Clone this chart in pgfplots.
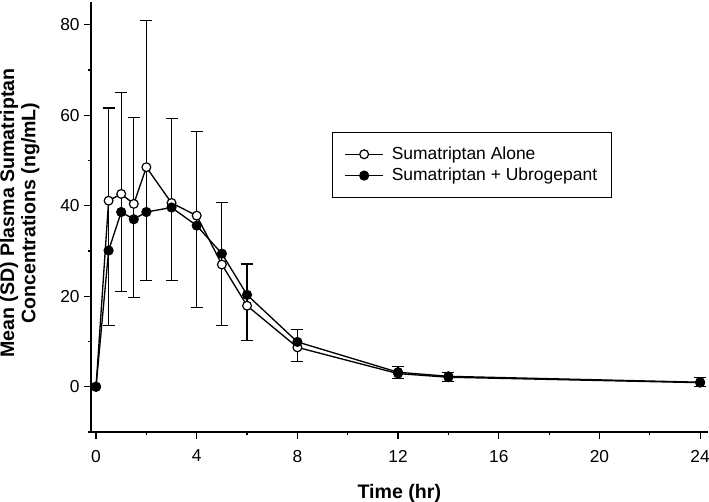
\documentclass[border=0pt]{standalone}
\usepackage{fontspec}
\setmainfont{Liberation Sans}
\usepackage{pgfplots}
\pgfplotsset{compat=1.18}
\usepackage{pgfplotstable}

\pgfplotstableread{
t m1 m2
0 0 0
0.5 41.1 30.1
1 42.6 38.6
1.5 40.4 37.0
2 48.5 38.6
3 40.6 39.6
4 37.8 35.6
5 27.0 29.4
6 17.9 20.3
8 8.7 9.9
12 2.9 3.2
14 2.1 2.3
24 0.9 1.0
}\means

\pgfplotstableread{
t y ep em
0.5 41.1 20.5 27.6
1 42.6 22.4 21.5
1.5 40.4 19.1 20.7
2 48.5 32.5 25.1
3 40.6 18.6 17.2
4 37.8 18.6 20.3
5 27.0 13.7 13.5
6 17.9 9.2 7.6
8 8.7 3.9 3.1
12 2.9 1.6 1.0
14 2.1 1.1 0.9
24 0.9 1.1 0.9
}\errs

\begin{document}
\begin{tikzpicture}
\begin{axis}[
  name=ax,
  scale only axis, width=462.5pt, height=322.5pt,
  xmin=-0.2, xmax=24.3, ymin=-10, ymax=85,
  axis x line=bottom, axis y line=left,
  axis line style={-, line width=0.9pt, black},
  xtick={0,4,...,24}, minor xtick={2,6,...,22},
  ytick={0,20,...,80}, minor ytick={-10,10,...,70},
  tick align=outside, major tick length=5pt, minor tick length=2.5pt,
  every tick/.style={black, line width=0.9pt},
  /pgf/number format/assume math mode=true,
  xticklabel style={font=\fontsize{13}{15}\selectfont, yshift=-5pt},
  yticklabel style={font=\fontsize{13}{15}\selectfont},
  xlabel={Time (hr)},
  ylabel={Mean (SD) Plasma Sumatriptan\\Concentrations (ng/mL)},
  every axis x label/.style={at={(axis description cs:0.5,-0.1535)}, anchor=base, font=\fontsize{14.7}{16}\selectfont\bfseries},
  every axis y label/.style={at={(axis description cs:-0.1155,0.509)}, rotate=90, anchor=center, align=center, font=\fontsize{14.7}{16}\selectfont\bfseries},
  clip=false,
  legend style={at={(axis description cs:0.391,0.698)}, anchor=north west,
    draw=black, line width=0.6pt, font=\fontsize{13.1}{15}\selectfont,
    inner xsep=9pt, inner ysep=9pt, row sep=1pt,
    /tikz/every odd column/.append style={column sep=4pt}},
  legend cell align=left,
  legend image code/.code={\draw[mark repeat=2,mark phase=2,#1] plot coordinates {(0cm,0cm) (0.5cm,0cm) (1cm,0cm)};},
]
\addplot[draw=none, forget plot, mark=none,
  error bars/.cd, y dir=both, y explicit,
  error bar style={line width=0.9pt, black},
  error mark options={rotate=90, mark size=4.5pt, line width=0.9pt, black}]
  table[x=t, y=y, y error plus=ep, y error minus=em] {\errs};
\addplot[black, line width=1pt, mark=*, mark size=3.3pt, mark options={fill=white, line width=0.9pt}]
  table[x=t, y=m1] {\means};
\addlegendentry{Sumatriptan Alone}
\addplot[black, line width=1pt, mark=*, mark size=3.3pt, mark options={fill=black}]
  table[x=t, y=m2] {\means};
\addlegendentry{Sumatriptan + Ubrogepant}
\end{axis}
\pgfresetboundingbox
\path[use as bounding box] ([xshift=-68.25pt,yshift=-52.5pt]ax.south west) rectangle ++(531.75pt,376.5pt);
\end{tikzpicture}
\end{document}
